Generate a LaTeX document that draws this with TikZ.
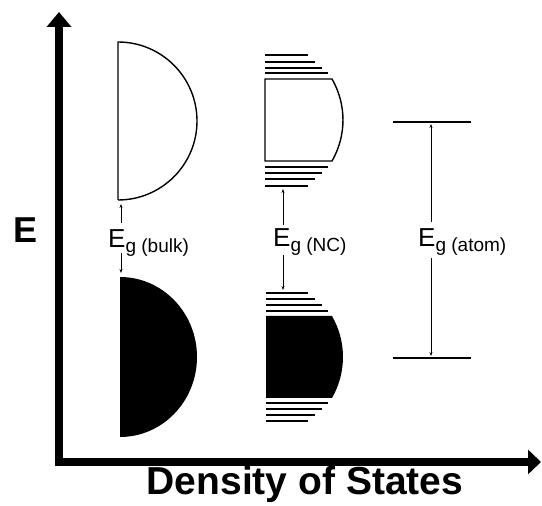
\documentclass[tikz,border=0pt]{standalone}
\usepackage{fontspec}
\setmainfont{Liberation Sans}
\usetikzlibrary{arrows.meta}
\tikzset{
  axis/.style={line width=7.5pt, line join=miter, {Triangle[length=15pt,width=24pt]}-{Triangle[length=13pt,width=24pt]}},
  outline/.style={line width=1.4pt},
  level/.style={line width=1.4pt},
  gap/.style={line width=0.9pt, -{Stealth[length=4pt,width=3pt]}},
  eglabel/.style={inner sep=0pt, anchor=base west},
  bigE/.style={inner sep=0pt, font=\fontsize{36}{40}\selectfont\bfseries},
  title/.style={inner sep=0pt, anchor=base, font=\fontsize{39}{44}\selectfont\bfseries}
}
\newcommand{\Eg}[1]{\fontsize{26}{30}\selectfont E\raisebox{-5pt}{\fontsize{19}{22}\selectfont g (#1)}}
\begin{document}
\begin{tikzpicture}[x=1pt,y=1pt]
\useasboundingbox (0,0) rectangle (542,506);
% axes
\coordinate (ytip) at (59,494);
\coordinate (corner) at (59,44);
\coordinate (xtip) at (541,44);
\draw[axis] (ytip) -- (corner) -- (xtip);
\node[bigE] (Elab) at (25.5,276) {E};
\node[title] (dos) at (305,11) {Density of States};

% bulk
\draw[outline] (118,306) -- (118,464) arc[start angle=90,end angle=-90,radius=79];
\fill (120,229) arc[start angle=90,end angle=-90,x radius=77,y radius=80] -- cycle;
\node[eglabel] (egb) at (108,258) {\Eg{bulk}};
\coordinate (b1) at (121,283); \coordinate (b2) at (121,302);
\coordinate (b3) at (121,253); \coordinate (b4) at (121,233);
\draw[gap] (b1) -- (b2);
\draw[gap] (b3) -- (b4);

% nanocrystal conduction
\foreach \y/\r in {451/308,444/315,438/322,433/328,339/328,333/322,327/315,320/308}
  \draw[level] (265,\y) -- (\r,\y);
\draw[outline] (265,345) -- (265,427) -- (332,427) arc[start angle=30,end angle=-30,radius=82] -- cycle;
% nanocrystal valence
\foreach \y/\r in {213/308,207/315,201/322,195/328,103/328,97/322,91/315,85/308}
  \draw[level] (266,\y) -- (\r,\y);
\fill (266,108) -- (266,190) -- (332,190) arc[start angle=30,end angle=-30,radius=82] -- cycle;
\node[eglabel] (egn) at (273,259) {\Eg{NC}};
\coordinate (n1) at (283,281); \coordinate (n2) at (283,317);
\coordinate (n3) at (283,251); \coordinate (n4) at (283,216);
\draw[gap] (n1) -- (n2);
\draw[gap] (n3) -- (n4);

% atom
\draw[level] (393,384) -- (471,384);
\draw[level] (393,148) -- (471,148);
\node[eglabel] (ega) at (418,259) {\Eg{atom}};
\coordinate (a1) at (431,284); \coordinate (a2) at (431,382);
\coordinate (a3) at (431,248); \coordinate (a4) at (431,150);
\draw[gap] (a1) -- (a2);
\draw[gap] (a3) -- (a4);
\end{tikzpicture}
\end{document}
